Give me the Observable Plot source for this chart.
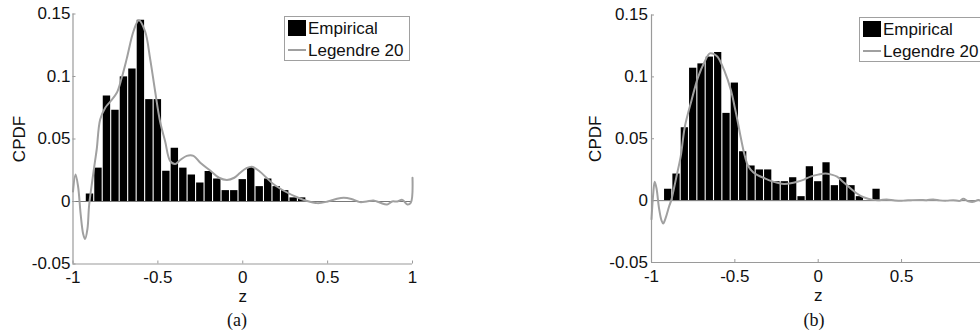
<!DOCTYPE html>
<html><head><meta charset="utf-8">
<script src="https://cdn.jsdelivr.net/npm/d3@7"></script>
<script src="https://cdn.jsdelivr.net/npm/@observablehq/plot@0.6"></script>
<style>
html,body{margin:0;padding:0;background:#fff;overflow:hidden;}
#fig{position:relative;width:980px;height:334px;overflow:hidden;background:#fff;font-family:Arial,"Liberation Sans",sans-serif;}
.panel{position:absolute;top:0;}
.legend{position:absolute;background:#fff;border:1px solid #a0a0a0;box-sizing:border-box;width:126px;height:45px;}
.sq{position:absolute;left:3px;top:3px;width:18px;height:16px;background:#000;}
.ln{position:absolute;left:3px;top:31.5px;width:18px;height:2px;background:#a0a0a0;}
.lt{position:absolute;left:23px;font-size:17px;line-height:17px;white-space:nowrap;color:#111;}
.cap{position:absolute;width:60px;text-align:center;font-family:"Liberation Serif","Times New Roman",serif;font-size:18px;line-height:18px;color:#111;}
</style>
</head><body>
<div id="fig"></div>
<script>
// ---- data ----
const binCenters = [-0.9,-0.85,-0.8,-0.75,-0.7,-0.65,-0.6,-0.55,-0.5,-0.45,-0.4,-0.35,-0.3,-0.25,-0.2,-0.15,-0.1,-0.05,0,0.05,0.1,0.15,0.2,0.25,0.3,0.35];
const binWidth = 0.05;
const empiricalA = [0.006,0.0267,0.0844,0.073,0.0997,0.106,0.145,0.0815,0.0815,0.0242,0.0426,0.0267,0.0212,0.0148,0.024,0.018,0.0087,0.0087,0.0175,0.0272,0.0119,0.018,0.0119,0.0087,0.0029,0.0029];
const empiricalB = [0.0092,0.0215,0.0589,0.107,0.1105,0.116,0.1197,0.0705,0.095,0.0395,0.028,0.0248,0.0248,0.0153,0.0153,0.0185,0.0032,0.0274,0.0153,0.0306,0.0121,0.0185,0.0121,0.0032,0,0.0092];

const legendreAz = [-1,-0.985,-0.97,-0.955,-0.94,-0.929,-0.915,-0.905,-0.885,-0.87,-0.86,-0.84,-0.81,-0.78,-0.742,-0.713,-0.683,-0.644,-0.612,-0.575,-0.546,-0.516,-0.487,-0.457,-0.428,-0.398,-0.37,-0.33,-0.29,-0.25,-0.19,-0.14,-0.093,-0.05,-0.015,0.02,0.054,0.1,0.14,0.18,0.25,0.32,0.37,0.44,0.5,0.55,0.595,0.64,0.69,0.73,0.77,0.81,0.85,0.88,0.91,0.94,0.97,0.99,1];
const legendreAv = [0.008,0.0216,0.012,-0.01,-0.026,-0.03,-0.022,-0.003,0.018,0.0325,0.042,0.0656,0.075,0.08,0.087,0.099,0.1145,0.136,0.145,0.136,0.1145,0.088,0.064,0.048,0.0325,0.03,0.033,0.0365,0.0365,0.031,0.0246,0.019,0.0172,0.019,0.023,0.0265,0.0278,0.024,0.019,0.014,0.008,0.0034,0.0008,-0.0013,0,0.002,0.003,0.002,-0.0005,0,0.0008,-0.001,-0.0024,0,0,0.0013,-0.0024,-0.001,0.019];

const legendreBz = [-1,-0.99,-0.981,-0.97,-0.955,-0.94,-0.93,-0.915,-0.895,-0.88,-0.865,-0.851,-0.825,-0.8,-0.76,-0.72,-0.682,-0.65,-0.62,-0.602,-0.563,-0.523,-0.5,-0.483,-0.463,-0.44,-0.42,-0.39,-0.364,-0.32,-0.284,-0.245,-0.205,-0.165,-0.125,-0.085,-0.046,0,0.044,0.08,0.113,0.15,0.193,0.23,0.272,0.33,0.37,0.41,0.46,0.51,0.56,0.61,0.65,0.69,0.73,0.77,0.81,0.85,0.87,0.9,0.93,0.96,0.98,1];
const legendreBv = [-0.015,0.005,0.0153,0.01,-0.006,-0.016,-0.0185,-0.014,-0.005,0.001,0.01,0.019,0.0355,0.0597,0.081,0.1,0.112,0.119,0.118,0.116,0.105,0.089,0.075,0.064,0.05,0.036,0.028,0.023,0.0207,0.018,0.016,0.0145,0.0135,0.014,0.0153,0.017,0.0194,0.021,0.022,0.021,0.0194,0.015,0.01,0.006,0.0027,0.0006,0.0004,0.001,0.0002,0,0.0004,0.0006,0.0004,0.001,0.0002,0,0.0004,-0.0002,0.0015,-0.0005,-0.001,0.0006,0,0.015];

const xTicks = [-1,-0.5,0,0.5,1];
const yTicks = [-0.05,0,0.05,0.1,0.15];
const seriesNames = ["Empirical","Legendre 20"];
const panelCaptions = ["(a)","(b)"];
const xLabel = "z";
const yLabel = "CPDF";

// ---- drawing ----
const axisGray = "#9a9a9a";
const curveGray = "#a0a0a0";
const fmt = d => String(+(+d).toFixed(2));

function panel(counts, cz, cv, m) {
  const bars = binCenters.map((c, i) => ({x1: c - binWidth / 2, x2: c + binWidth / 2, v: counts[i]}));
  const curve = cz.map((z, i) => ({z, v: cv[i]}));
  return Plot.plot({
    width: m.width, height: 310,
    marginLeft: m.left, marginRight: m.right, marginTop: m.top, marginBottom: m.bottom,
    x: {domain: [-1, 1]},
    y: {domain: [-0.05, 0.15]},
    style: {fontSize: "17px", fontFamily: "Arial, 'Liberation Sans', sans-serif", background: "transparent", overflow: "visible", maxWidth: "none", color: "#111"},
    marks: [
      Plot.rect(bars, {x1: "x1", x2: "x2", y1: 0, y2: "v", fill: "#000", insetLeft: 0.55, insetRight: 0.55}),
      Plot.ruleY([0], {stroke: "#555", strokeWidth: 0.8}),
      Plot.line(curve, {x: "z", y: "v", stroke: curveGray, strokeWidth: 2, curve: "catmull-rom"}),
      Plot.ruleX([-1], {stroke: axisGray, strokeWidth: 1.2}),
      Plot.ruleY([-0.05], {stroke: axisGray, strokeWidth: 1.2}),
      Plot.axisX(xTicks, {tickSize: -3, tickPadding: 10, stroke: axisGray, fill: "#111", tickFormat: fmt,
        label: xLabel, labelAnchor: "center", labelOffset: 38, labelArrow: "none"}),
      Plot.axisY(yTicks, {tickSize: -3, tickPadding: m.ypad, stroke: axisGray, fill: "#111", tickFormat: fmt,
        label: yLabel, labelAnchor: "center", labelOffset: m.lo, labelArrow: "none"})
    ]
  });
}

const fig = document.getElementById("fig");
const pa = panel(empiricalA, legendreAz, legendreAv, {width: 440, left: 72.5, right: 28, top: 13.5, bottom: 46.5, ypad: 5.5, lo: 60});
pa.classList.add("panel"); pa.style.left = "0px";
fig.appendChild(pa);
const pb = panel(empiricalB, legendreBz, legendreBv, {width: 460, left: 91, right: 35.6, top: 14.5, bottom: 48, ypad: 6.5, lo: 63});
pb.classList.add("panel"); pb.style.left = "560px";
fig.appendChild(pb);

function legend(L, T) {
  const d = document.createElement("div");
  d.className = "legend";
  d.style.left = L + "px"; d.style.top = T + "px";
  d.innerHTML = `<div class="sq"></div><div class="lt" style="top:2.9px">${seriesNames[0]}</div>` +
    `<div class="ln"></div><div class="lt" style="top:25.3px">${seriesNames[1]}</div>`;
  fig.appendChild(d);
}
legend(284, 16);
legend(859, 17);

function caption(text, cx) {
  const d = document.createElement("div");
  d.className = "cap";
  d.textContent = text;
  d.style.left = (cx - 30) + "px";
  d.style.top = "311px";
  fig.appendChild(d);
}
caption(panelCaptions[0], 237);
caption(panelCaptions[1], 814);
</script>
</body></html>
